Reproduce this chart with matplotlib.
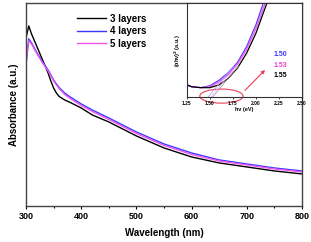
import numpy as np
import matplotlib
matplotlib.use("Agg")
from matplotlib import pyplot as plt
from matplotlib.patches import Ellipse

plt.rcParams['font.family'] = ['Liberation Sans', 'DejaVu Sans']
plt.rcParams['font.weight'] = 'bold'

# main spectra
wl = [300, 305, 310, 320, 330, 340, 345, 350, 355, 360, 370, 380, 400, 420,
      450, 500, 550, 600, 650, 700, 750, 800]
abs_3 = [1.68, 1.80, 1.72, 1.59, 1.46, 1.33, 1.25, 1.18, 1.13, 1.095, 1.06,
         1.035, 0.98, 0.91, 0.84, 0.70, 0.58, 0.49, 0.43, 0.39, 0.35, 0.32]
abs_4 = [1.41, 1.67, 1.63, 1.53, 1.44, 1.36, 1.31, 1.26, 1.22, 1.185, 1.13,
         1.09, 1.02, 0.96, 0.88, 0.74, 0.62, 0.53, 0.46, 0.42, 0.38, 0.35]
abs_5 = [1.46, 1.65, 1.62, 1.52, 1.43, 1.35, 1.30, 1.25, 1.21, 1.175, 1.115,
         1.075, 1.005, 0.945, 0.865, 0.725, 0.605, 0.515, 0.45, 0.41, 0.37,
         0.34]
labels = ['3 layers', '4 layers', '5 layers']
colors = ['black', '#3a3aff', '#ee55ee']

# tauc plot (inset)
ev_4 = [1.25, 1.30, 1.40, 1.50, 1.60, 1.70, 1.80, 1.90, 2.00, 2.08, 2.12]
tauc_4 = [0.13, 0.11, 0.10, 0.12, 0.18, 0.26, 0.37, 0.54, 0.77, 1.00, 1.10]
ev_5 = [1.25, 1.30, 1.40, 1.50, 1.60, 1.70, 1.80, 1.90, 2.00, 2.10, 2.14]
tauc_5 = [0.13, 0.11, 0.10, 0.11, 0.16, 0.24, 0.35, 0.51, 0.73, 1.00, 1.10]
ev_3 = [1.25, 1.30, 1.40, 1.50, 1.60, 1.70, 1.80, 1.90, 2.00, 2.10, 2.16]
tauc_3 = [0.13, 0.11, 0.10, 0.10, 0.13, 0.20, 0.31, 0.47, 0.68, 0.95, 1.10]
gaps = ['1.50', '1.53', '1.55']
gap_vals = [1.50, 1.53, 1.55]
gap_colors = ['#3a3aff', '#ee44cc', 'black']

fig = plt.figure(figsize=(3.11, 2.42), dpi=100)
ax = fig.add_axes([0.0836, 0.149, 0.887, 0.839])
for y, lab, c in zip([abs_3, abs_4, abs_5], labels, colors):
    ax.plot(wl, y, color=c, lw=1.0, label=lab)
ax.set_xlim(300, 800)
ax.set_ylim(0, 2.03)
ax.set_xticks([300, 400, 500, 600, 700, 800])
ax.set_xticks([350, 450, 550, 650, 750], minor=True)
ax.set_yticks([])
ax.tick_params(axis='x', labelsize=6.5, length=2.5, width=0.8, pad=2)
ax.tick_params(axis='x', which='minor', length=1.5, width=0.8)
for s in ax.spines.values():
    s.set_color('#444444')
    s.set_linewidth(1.0)
ax.set_xlabel('Wavelength (nm)', fontsize=7, fontweight='bold', labelpad=5)
ax.set_ylabel('Absorbance (a.u.)', fontsize=7, fontweight='bold', labelpad=5)
ax.legend(loc='upper left', bbox_to_anchor=(0.17, 0.965), frameon=False,
          fontsize=7, handlelength=3.0, handletextpad=0.4,
          labelspacing=0.25, borderaxespad=0)

# inset
ins = fig.add_axes([0.601, 0.599, 0.37, 0.388])
for x, y, c in zip([ev_4, ev_5, ev_3], [tauc_4, tauc_5, tauc_3],
                   ['#5a3aff', '#ee55ee', 'black']):
    ins.plot(x, y, color=c, lw=0.9)
for g, c in zip(gap_vals, ['#9999ff', '#ffaaee', '#999999']):
    ins.plot([g - 0.02, g + 0.26], [0.0, 0.33], color=c, lw=0.5)
ins.set_xlim(1.25, 2.5)
ins.set_ylim(0, 1.0)
ins.set_xticks([1.25, 1.5, 1.75, 2.0, 2.25, 2.5])
ins.set_xticklabels(['1.25', '1.50', '1.75', '2.00', '2.25', '2.50'])
ins.set_yticks([])
ins.tick_params(axis='x', labelsize=3.5, length=1.5, width=0.5, pad=1)
for s in ins.spines.values():
    s.set_color('#333333')
    s.set_linewidth(0.8)
ins.set_xlabel('h\u03bd (eV)', fontsize=4, fontweight='bold', labelpad=1)
ins.set_ylabel('(\u03b1h\u03bd)$^2$ (a.u.)', fontsize=4, fontweight='bold',
               labelpad=3)
for i, (t, c) in enumerate(zip(gaps, gap_colors)):
    ins.text(2.19, 0.45 - i * 0.11, t, color=c, fontsize=5, fontweight='bold',
             va='center')
ins.add_patch(Ellipse((1.625, 0.01), 0.47, 0.15, fill=False, color='#e8405a',
                      lw=0.8, clip_on=False))
ins.annotate('', xy=(2.12, 0.31), xytext=(1.86, 0.05),
             arrowprops=dict(arrowstyle='-|>', color='#e8405a', lw=0.8,
                             mutation_scale=5))

fig.savefig('out.png', dpi=100)
